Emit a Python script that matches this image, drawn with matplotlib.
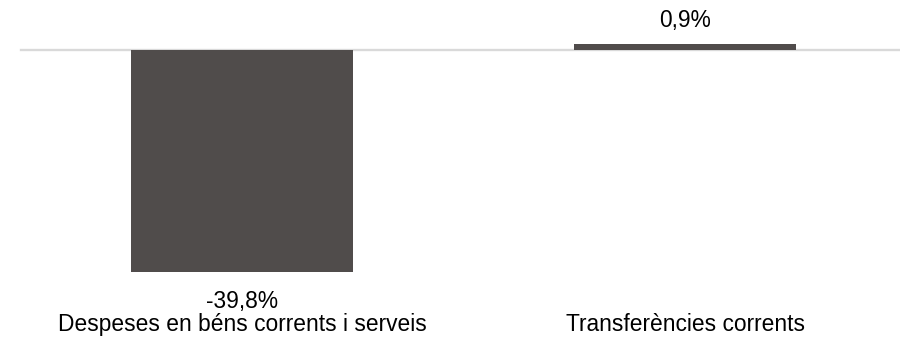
import numpy as np
import matplotlib.pyplot as plt

categories = ['Despeses en béns corrents i serveis', 'Transferències corrents']
values = [-39.8, 0.9]
labels = ['-39,8%', '0,9%']

plt.rcParams['font.family'] = ['Liberation Sans', 'DejaVu Sans']

fig = plt.figure(figsize=(9, 3.42), dpi=100)
ax = fig.add_axes([0, 0, 1, 1])

x = np.arange(len(categories))
zero_px = 49.5
px = (272.3 - zero_px) / 39.8  # pixels per percent
ax.set_ylim(-(342 - zero_px) / px, zero_px / px)
ax.set_xlim(-242 / 443, (900 - 242) / 443)

ax.axhline(0, xmin=21 / 900, xmax=1, color='#d9d9d9', lw=1.7, zorder=1)
ax.bar(x, values, width=222 / 443, color='#504c4b', zorder=2)

fs = 16.4
for xi, v, lab in zip(x, values, labels):
    off = -25.9 if v < 0 else 12.6
    ax.annotate(lab, (xi, v), xytext=(0, off), textcoords='offset points',
                ha='center', va='baseline', fontsize=fs, color='#000000')

for xi, cat in zip(x, categories):
    ax.text(xi, 1 - 331 / 342, cat, transform=ax.get_xaxis_transform(),
            ha='center', va='baseline', fontsize=fs, color='#000000')

ax.axis('off')
fig.savefig('out.png', dpi=100)
